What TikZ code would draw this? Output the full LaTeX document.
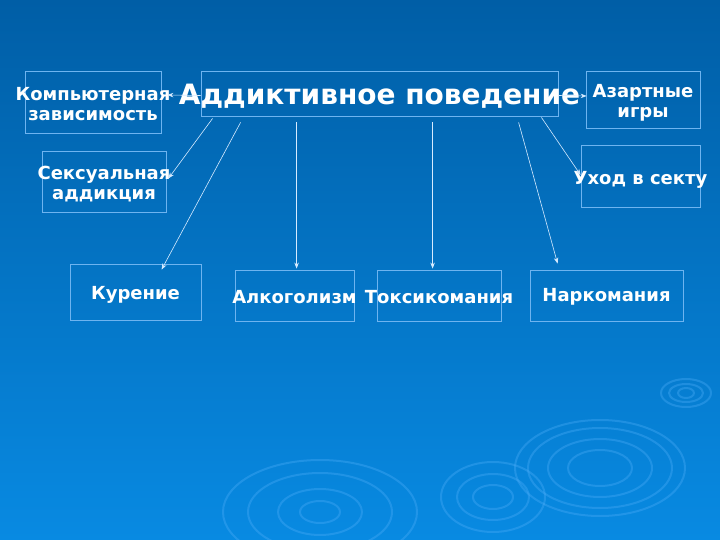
\documentclass[tikz,border=0pt]{standalone}
\usepackage{fontspec}
\setmainfont{DejaVu Sans}
\usetikzlibrary{arrows.meta,calc}
\definecolor{bgtop}{RGB}{0,94,166}
\definecolor{bgbot}{RGB}{8,138,226}
\definecolor{boxline}{RGB}{110,180,240}
\definecolor{ripple}{RGB}{80,175,250}
\definecolor{conncol}{RGB}{215,235,255}
\tikzset{
  box/.style={draw=boxline, line width=0.8pt, rectangle, inner sep=0pt, text=white,
    font=\fontsize{18}{20}\bfseries\selectfont},
  conn/.style={draw=conncol, line width=0.6pt, -{Stealth[length=6pt,width=4.5pt]}},
  rip/.style={draw=ripple, line width=2pt, opacity=0.35}
}
\newcommand{\twol}[3][4.5pt]{\makebox[0pt][c]{\raisebox{-#1}[\height][\depth]{\begin{tabular}{@{}c@{}}#2\\#3\end{tabular}}}}
\newcommand{\onel}[2][3pt]{\makebox[0pt][c]{\raisebox{-#1}[\height][\depth]{#2}}}
\begin{document}
\begin{tikzpicture}[x=1pt,y=-1pt]
\shade[top color=bgtop, bottom color=bgbot] (0,0) rectangle (720,540);
\useasboundingbox (0,0) rectangle (720,540);
% ripples
\foreach \rx/\ry in {25/14,17/9,8/5} \draw[rip] (686,393) ellipse ({\rx} and {\ry});
\foreach \rx/\ry in {85/48,72/40,52/29,32/18} \draw[rip] (600,468) ellipse ({\rx} and {\ry});
\foreach \rx/\ry in {52/35,36/23,20/12} \draw[rip] (493,497) ellipse ({\rx} and {\ry});
\foreach \rx/\ry in {97/52,72/39,42/23,20/11} \draw[rip] (320,512) ellipse ({\rx} and {\ry});
% nodes
\node[box, minimum width=357, minimum height=45, font=\fontsize{28}{32}\bfseries\selectfont] (main) at (379.5,93.5) {\onel[3pt]{Аддиктивное поведение}};
\node[box, minimum width=136, minimum height=62] (komp) at (93,102) {\twol[5pt]{Компьютерная}{зависимость}};
\node[box, minimum width=124, minimum height=61] (sex) at (104,181.5) {\twol[4pt]{Сексуальная}{аддикция}};
\node[box, minimum width=114, minimum height=57] (azart) at (643,99.5) {\twol[4.5pt]{Азартные}{игры}};
\node[box, minimum width=119, minimum height=62] (sekta) at (640.5,176) {\onel[4pt]{Уход в секту}};
\node[box, minimum width=131, minimum height=56] (kur) at (135.5,292) {\onel[3pt]{Курение}};
\node[box, minimum width=119, minimum height=51] (alk) at (294.5,295.5) {\onel[1.5pt]{Алкоголизм}};
\node[box, minimum width=124, minimum height=51] (tox) at (439,295.5) {\onel[1.5pt]{Токсикомания}};
\node[box, minimum width=153, minimum height=51] (nark) at (606.5,295.5) {\onel[1.5pt]{Наркомания}};
% connectors
\draw[conn] ($(main.west)+(0,2)$) -- ($(komp.east)+(6,-7)$);
\draw[conn] ($(main.south west)+(12,2)$) -- ($(sex.east)+(2,-3)$);
\draw[conn] ($(main.south west)+(40,6)$) -- ($(kur.north west)+(92,6)$);
\draw[conn] ($(main.south west)+(96,6)$) -- ($(alk.north west)+(62,-1)$);
\draw[conn] ($(main.south west)+(232,6)$) -- ($(tox.north west)+(56,-1)$);
\draw[conn] ($(main.south west)+(318,6)$) -- ($(nark.north west)+(28,-6)$);
\draw[conn] ($(main.south east)+(-17,1)$) -- ($(sekta.west)+(0,-1)$);
\draw[conn] ($(main.east)+(0,2)$) -- ($(azart.west)+(1,-3.5)$);
\end{tikzpicture}
\end{document}
